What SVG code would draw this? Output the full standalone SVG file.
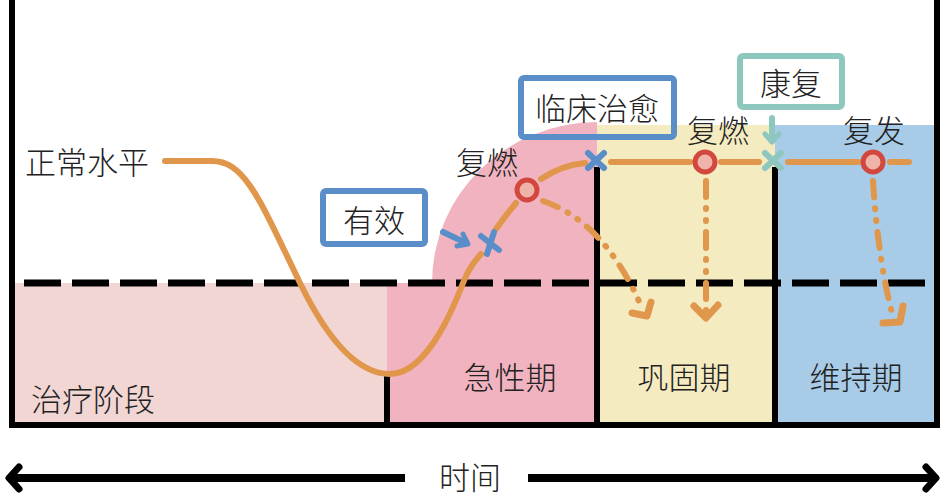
<svg xmlns="http://www.w3.org/2000/svg" width="945" height="496" viewBox="0 0 945 496">
<style>
text{font-family:"Noto Sans CJK SC","Noto Sans",sans-serif;font-size:31px;font-weight:300;fill:#222;dominant-baseline:central;text-anchor:middle}
.frame{stroke:#000;stroke-width:6;fill:none;stroke-linecap:square}
.curve{stroke:#E0974B;stroke-width:6;fill:none;stroke-linecap:round;stroke-linejoin:round}
.dd{stroke:#E0974B;stroke-width:6;fill:none;stroke-linecap:round;stroke-dasharray:16 11 1 11 1 11}
.head{stroke:#E0974B;stroke-width:7;fill:none;stroke-linecap:round;stroke-linejoin:round}
.xb{stroke:#5A8EC8;stroke-width:6;stroke-linecap:round}
.xt{stroke:#8EC7BE;stroke-width:6;stroke-linecap:round}
.dot{stroke:#D2473E;stroke-width:5;fill:#EFB3AA}
.boxb{stroke:#5A8EC8;stroke-width:6;fill:none}
.boxt{stroke:#8EC7BE;stroke-width:6;fill:none}
</style>
<rect width="945" height="496" fill="#fff"/>
<g id="regions">
<rect x="12" y="283" width="375" height="142" fill="#F2D6D4"/>
<path d="M387 283 L432 283 A166 161 0 0 1 597 122 L597 425 L387 425 Z" fill="#F2B3C0"/>
<rect x="597" y="125" width="178" height="300" fill="#F5EBC0"/>
<rect x="775" y="125" width="162" height="300" fill="#A8CCE8"/>
</g>
<g id="frame">
<path class="frame" d="M12 0 L12 425 L937 425 L937 0"/>
<line x1="387" y1="375" x2="387" y2="425" class="frame"/>
<line x1="597" y1="170" x2="597" y2="425" class="frame"/>
<line x1="775" y1="170" x2="775" y2="425" class="frame"/>
<line x1="24" y1="283" x2="937" y2="283" stroke="#000" stroke-width="7" stroke-dasharray="37 11"/>
</g>
<g id="labels">
<text x="87" y="160">正常水平</text>
<text x="93" y="397">治疗阶段</text>
<text x="510" y="375">急性期</text>
<text x="684" y="375">巩固期</text>
<text x="856" y="375">维持期</text>
<text x="487" y="160">复燃</text>
<text x="718" y="128">复燃</text>
<text x="874" y="128">复发</text>
</g>
<g id="connectors">
<path class="curve" d="M165 161 L212 161 C245 161 260 200 300 283 C318 320 350 374 390 374 C420 374 445 330 463 283 C469 268 474 262 481 254"/>
<path class="curve" d="M496 229 Q506 215 516 203"/>
<path class="curve" d="M541 179 Q562 165 585 163"/>
<line class="curve" x1="611" y1="162" x2="690" y2="162"/>
<line class="curve" x1="721" y1="162" x2="759" y2="162"/>
<line class="curve" x1="788" y1="162" x2="858" y2="162"/>
<line class="curve" x1="890" y1="162" x2="909" y2="162"/>
<path class="dd" d="M543 201 Q605 222 642 308"/>
<path class="head" d="M632 313 L647 316 L651 302"/>
<path class="dd" d="M706 181 L706 312"/>
<path class="head" d="M694 306 L706 318 L718 305"/>
<path class="dd" d="M873 181 Q878 260 893 317"/>
<path class="head" d="M883 323 L900 322 L903 306"/>
<line x1="443" y1="232" x2="466" y2="243" stroke="#5A8EC8" stroke-width="6" stroke-linecap="round"/>
<path d="M457 246 L468 244 L463 234" stroke="#5A8EC8" stroke-width="5" fill="none" stroke-linecap="round" stroke-linejoin="round"/>
<line x1="772" y1="118" x2="772" y2="141" stroke="#8EC7BE" stroke-width="6" stroke-linecap="round"/>
<path d="M765 134 L772 142 L779 134" stroke="#8EC7BE" stroke-width="5" fill="none" stroke-linecap="round" stroke-linejoin="round"/>
<line x1="10" y1="478" x2="405" y2="478" stroke="#000" stroke-width="8"/>
<path d="M19 467 L9 478 L19 489" stroke="#000" stroke-width="7" fill="none" stroke-linecap="round" stroke-linejoin="round"/>
<line x1="528" y1="478" x2="935" y2="478" stroke="#000" stroke-width="8"/>
<path d="M926 467 L936 478 L926 489" stroke="#000" stroke-width="7" fill="none" stroke-linecap="round" stroke-linejoin="round"/>
</g>
<g id="markers">
<g id="x1"><line class="xb" x1="481" y1="236" x2="499" y2="250"/><line class="xb" x1="494" y1="232" x2="487" y2="254"/></g>
<g id="c1"><circle class="dot" cx="527" cy="190" r="10"/></g>
<g id="x2"><line class="xb" x1="588" y1="153" x2="604" y2="168"/><line class="xb" x1="604" y1="153" x2="588" y2="168"/></g>
<g id="c2"><circle class="dot" cx="705" cy="162" r="10"/></g>
<g id="x3"><line class="xt" x1="765" y1="153" x2="781" y2="168"/><line class="xt" x1="781" y1="153" x2="765" y2="168"/></g>
<g id="c3"><circle class="dot" cx="873" cy="162" r="10"/></g>
</g>
<g id="box-youxiao"><rect class="boxb" x="323" y="191" width="102" height="53" rx="3"/><text x="374" y="218">有效</text></g>
<g id="box-linchuang"><rect class="boxb" x="521" y="78" width="153" height="59" rx="3"/><text x="597" y="106">临床治愈</text></g>
<g id="box-kangfu"><rect class="boxt" x="740" y="56" width="102" height="51" rx="3"/><text x="791" y="81">康复</text></g>
<g id="time"><text x="470" y="475" font-size="30">时间</text></g>
</svg>
